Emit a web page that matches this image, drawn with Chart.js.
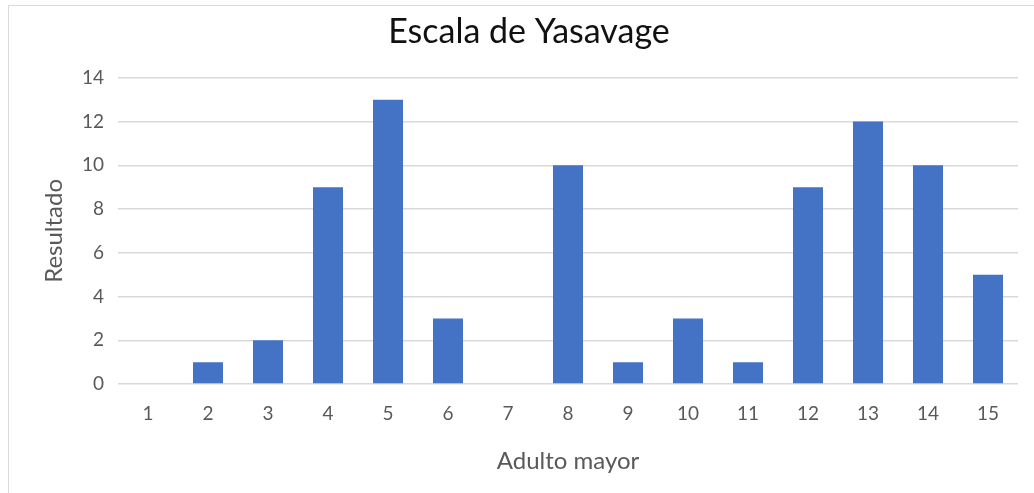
<!DOCTYPE html>
<html>
<head>
<meta charset="utf-8">
<script src="https://cdn.jsdelivr.net/npm/chart.js@4/dist/chart.umd.min.js"></script>
<style>
  html, body { margin: 0; padding: 0; background: #fff; overflow: hidden; }
  #marco { position: absolute; left: 8px; top: 5px; width: 1040px; height: 500px; border: 1px solid #d9d9d9; box-sizing: border-box; }
  #wrap { position: absolute; left: 0; top: 0; width: 1034px; height: 493px; }
</style>
</head>
<body>
<div id="marco"></div>
<div id="wrap"><canvas id="grafico"></canvas></div>
<script>
// Datos del gráfico
const adultos = ['1', '2', '3', '4', '5', '6', '7', '8', '9', '10', '11', '12', '13', '14', '15'];
const resultados = [0, 1, 2, 9, 13, 3, 0, 10, 1, 3, 1, 9, 12, 10, 5];

const fuente = 'Lato, "Open Sans", sans-serif';
const gris = '#595959';

const ctx = document.getElementById('grafico').getContext('2d');
new Chart(ctx, {
    type: 'bar',
    data: {
        labels: adultos,
        datasets: [{
            label: 'Resultado',
            data: resultados,
            backgroundColor: '#4472C4',
            barPercentage: 0.5,
            categoryPercentage: 1
        }]
    },
    options: {
        responsive: true,
        maintainAspectRatio: false,
        animation: false,
        layout: { padding: { left: 40, right: 16, top: 0, bottom: 0 } },
        plugins: {
            legend: { display: false },
            tooltip: { enabled: false },
            title: {
                display: true,
                text: 'Escala de Yasavage',
                color: '#111',
                font: { family: fuente, size: 34, weight: 'normal' },
                padding: { top: 12, bottom: 25 }
            }
        },
        scales: {
            x: {
                grid: { display: false, drawTicks: false },
                border: { display: false },
                ticks: { color: gris, font: { family: fuente, size: 19 }, padding: 18 },
                title: {
                    display: true,
                    text: 'Adulto mayor',
                    color: gris,
                    font: { family: fuente, size: 24 },
                    padding: { top: 0, bottom: 17 }
                },
                afterFit: s => { s.height = 109; }
            },
            y: {
                min: 0,
                max: 14,
                ticks: { stepSize: 2, color: gris, font: { family: fuente, size: 19 }, padding: 14 },
                grid: { color: '#d9d9d9', lineWidth: 1.5, drawTicks: false },
                border: { display: false },
                title: {
                    display: true,
                    text: 'Resultado',
                    color: gris,
                    font: { family: fuente, size: 24 },
                    padding: 0
                },
                afterFit: s => { s.width = 78; }
            }
        }
    }
});
</script>
</body>
</html>
